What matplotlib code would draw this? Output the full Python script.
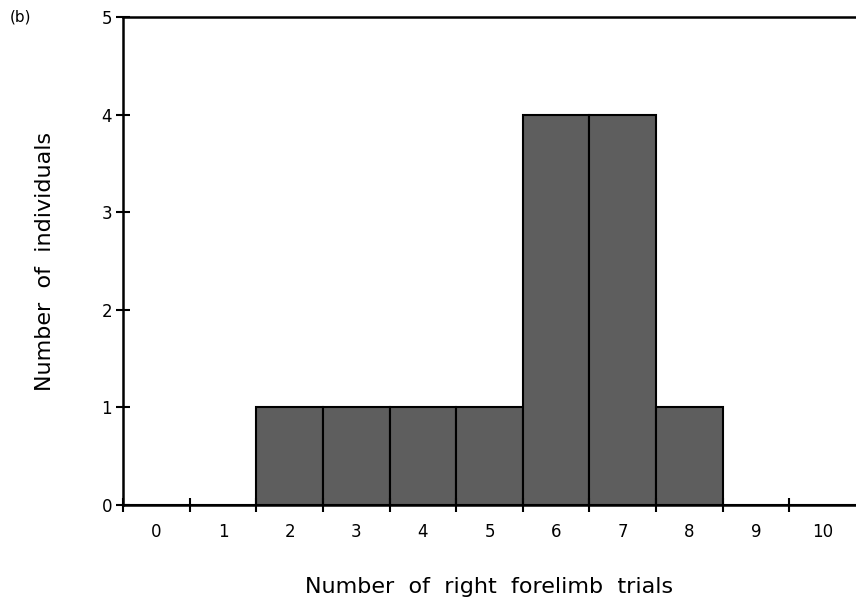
import numpy as np
import matplotlib.pyplot as plt

# number of right forelimb trials and how many individuals
trials = [0, 1, 2, 3, 4, 5, 6, 7, 8, 9, 10]
counts = [0, 0, 1, 1, 1, 1, 4, 4, 1, 0, 0]
bin_edges = [-0.5, 0.5, 1.5, 2.5, 3.5, 4.5, 5.5, 6.5, 7.5, 8.5, 9.5]
yticks = [0, 1, 2, 3, 4, 5]

fig = plt.figure(figsize=(8.56, 6.07), dpi=100)
ax = fig.add_axes([123/856, 102/607, 733/856, 488/607])

ax.bar(trials, counts, width=1.0, color='#5e5e5e', edgecolor='black', linewidth=1.5)

ax.set_xlim(-0.5, 10.5)
ax.set_ylim(0, 5)

ax.set_xticks(bin_edges)
ax.set_xticklabels([])
ax.set_xticks(trials, minor=True)
ax.set_xticklabels([str(t) for t in trials], minor=True, fontsize=12)
ax.tick_params(axis='x', which='major', direction='inout', length=10, width=1.5)
ax.tick_params(axis='x', which='minor', length=0, pad=13)

ax.set_yticks(yticks)
ax.set_yticklabels([str(t) for t in yticks], fontsize=12)
ax.tick_params(axis='y', direction='inout', length=10, width=1.5, pad=3)

ax.spines['right'].set_visible(False)
for s in ['left', 'bottom', 'top']:
    ax.spines[s].set_linewidth(1.8)

ax.set_xlabel('Number  of  right  forelimb  trials', fontsize=16, labelpad=26)
ax.set_ylabel('Number  of  individuals', fontsize=16, labelpad=33)

fig.text(10/856, 1 - 17/607, '(b)', fontsize=11, va='center')

fig.savefig('out.png', dpi=100)
